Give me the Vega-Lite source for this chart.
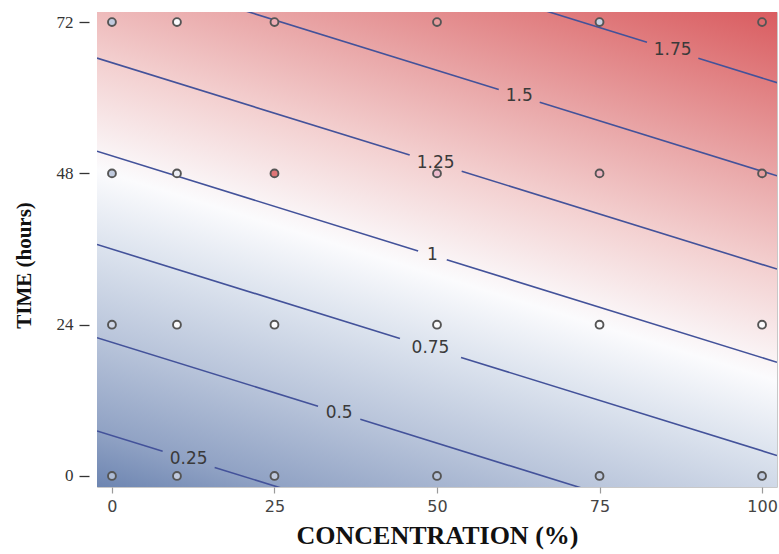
{
  "$schema": "https://vega.github.io/schema/vega-lite/v6.json",
  "width": 680,
  "height": 475,
  "autosize": "none",
  "padding": {"left": 97, "top": 12, "right": 2, "bottom": 67},
  "background": "white",
  "config": {"view": {"stroke": "#c8c8c8", "strokeWidth": 1}},
  "datasets": {
    "bg": [{"x1": -2.3, "x2": 102.3, "y1": -1.75, "y2": 73.6}],
    "contours": [
      {"level": 0.25, "seg": "0.25a", "x": -2.3, "y": 7.15},
      {"level": 0.25, "seg": "0.25a", "x": 7.8, "y": 3.92},
      {"level": 0.25, "seg": "0.25b", "x": 15.8, "y": 1.36},
      {"level": 0.25, "seg": "0.25b", "x": 102.3, "y": -26.32},
      {"level": 0.5, "seg": "0.5a", "x": -2.3, "y": 21.94},
      {"level": 0.5, "seg": "0.5a", "x": 31.7, "y": 11.06},
      {"level": 0.5, "seg": "0.5b", "x": 38.2, "y": 8.98},
      {"level": 0.5, "seg": "0.5b", "x": 102.3, "y": -11.53},
      {"level": 0.75, "seg": "0.75a", "x": -2.3, "y": 36.72},
      {"level": 0.75, "seg": "0.75a", "x": 44.3, "y": 21.81},
      {"level": 0.75, "seg": "0.75b", "x": 53.7, "y": 18.8},
      {"level": 0.75, "seg": "0.75b", "x": 102.3, "y": 3.25},
      {"level": 1, "seg": "1a", "x": -2.3, "y": 51.51},
      {"level": 1, "seg": "1a", "x": 47.1, "y": 35.7},
      {"level": 1, "seg": "1b", "x": 51.5, "y": 34.29},
      {"level": 1, "seg": "1b", "x": 102.3, "y": 18.04},
      {"level": 1.25, "seg": "1.25a", "x": -2.3, "y": 66.29},
      {"level": 1.25, "seg": "1.25a", "x": 45.8, "y": 50.9},
      {"level": 1.25, "seg": "1.25b", "x": 53.8, "y": 48.34},
      {"level": 1.25, "seg": "1.25b", "x": 102.3, "y": 32.82},
      {"level": 1.5, "seg": "1.5a", "x": -2.3, "y": 81.08},
      {"level": 1.5, "seg": "1.5a", "x": 59.5, "y": 61.3},
      {"level": 1.5, "seg": "1.5b", "x": 65.8, "y": 59.29},
      {"level": 1.5, "seg": "1.5b", "x": 102.3, "y": 47.61},
      {"level": 1.75, "seg": "1.75a", "x": -2.3, "y": 95.86},
      {"level": 1.75, "seg": "1.75a", "x": 82.3, "y": 68.79},
      {"level": 1.75, "seg": "1.75b", "x": 90.2, "y": 66.26},
      {"level": 1.75, "seg": "1.75b", "x": 102.3, "y": 62.39}
    ],
    "labels": [
      {"label": "0.25", "x": 11.8, "y": 2.64},
      {"label": "0.5", "x": 34.95, "y": 10.02},
      {"label": "0.75", "x": 49.0, "y": 20.31},
      {"label": "1", "x": 49.3, "y": 34.99},
      {"label": "1.25", "x": 49.8, "y": 49.62},
      {"label": "1.5", "x": 62.65, "y": 60.29},
      {"label": "1.75", "x": 86.25, "y": 67.53}
    ],
    "points": [
      {"conc": 0, "time": 72, "resp": 0.55},
      {"conc": 10, "time": 72, "resp": 0.95},
      {"conc": 25, "time": 72, "resp": 1.45},
      {"conc": 50, "time": 72, "resp": 1.55},
      {"conc": 75, "time": 72, "resp": 0.6},
      {"conc": 100, "time": 72, "resp": 1.85},
      {"conc": 0, "time": 48, "resp": 0.55},
      {"conc": 10, "time": 48, "resp": 0.85},
      {"conc": 25, "time": 48, "resp": 1.8},
      {"conc": 50, "time": 48, "resp": 1.35},
      {"conc": 75, "time": 48, "resp": 1.4},
      {"conc": 100, "time": 48, "resp": 1.55},
      {"conc": 0, "time": 24, "resp": 0.65},
      {"conc": 10, "time": 24, "resp": 0.95},
      {"conc": 25, "time": 24, "resp": 0.95},
      {"conc": 50, "time": 24, "resp": 0.95},
      {"conc": 75, "time": 24, "resp": 0.95},
      {"conc": 100, "time": 24, "resp": 0.95},
      {"conc": 0, "time": 0, "resp": 0.45},
      {"conc": 10, "time": 0, "resp": 0.55},
      {"conc": 25, "time": 0, "resp": 0.55},
      {"conc": 50, "time": 0, "resp": 0.5},
      {"conc": 75, "time": 0, "resp": 0.55},
      {"conc": 100, "time": 0, "resp": 0.55}
    ]
  },
  "layer": [
    {
      "data": {"name": "bg"},
      "mark": {
        "type": "rect",
        "stroke": null,
        "fill": {
          "gradient": "linear",
          "x1": 0, "y1": 1, "x2": 0.5356, "y2": -0.2062,
          "stops": [
            {"offset": 0, "color": "#6d85b1"},
            {"offset": 0.0818, "color": "#90a2c4"},
            {"offset": 0.2177, "color": "#b8c4da"},
            {"offset": 0.3535, "color": "#dce3ee"},
            {"offset": 0.4622, "color": "#fbfbfd"},
            {"offset": 0.6253, "color": "#f3cfcf"},
            {"offset": 0.7611, "color": "#e9a6a7"},
            {"offset": 0.897, "color": "#e07c7e"},
            {"offset": 1, "color": "#d95c60"}
          ]
        }
      },
      "encoding": {
        "x": {
          "field": "x1", "type": "quantitative",
          "scale": {"domain": [-2.3, 102.3], "nice": false, "zero": false},
          "axis": {
            "values": [0, 25, 50, 75, 100],
            "title": "CONCENTRATION (%)",
            "grid": false, "domain": false,
            "tickSize": 6, "tickColor": "#9a9a9a", "tickWidth": 1.2,
            "labelFont": "DejaVu Sans", "labelFontSize": 16, "labelColor": "#444",
            "labelPadding": 5,
            "titleFont": "Liberation Serif", "titleFontSize": 26, "titleFontWeight": "bold",
            "titleColor": "#111", "titlePadding": 8
          }
        },
        "x2": {"field": "x2"},
        "y": {
          "field": "y1", "type": "quantitative",
          "scale": {"domain": [-1.75, 73.6], "nice": false, "zero": false},
          "axis": {
            "values": [0, 24, 48, 72],
            "title": "TIME (hours)",
            "grid": false, "domain": false,
            "offset": 8,
            "tickSize": 10, "tickColor": "#333", "tickWidth": 1.3,
            "labelFont": "Liberation Serif", "labelFontSize": 17, "labelColor": "#333",
            "labelPadding": 6,
            "titleFont": "Liberation Serif", "titleFontSize": 21, "titleFontWeight": "bold",
            "titleColor": "#111", "titlePadding": 22, "titleY": 253
          }
        },
        "y2": {"field": "y2"}
      }
    },
    {
      "data": {"name": "contours"},
      "mark": {"type": "line", "color": "#43529a", "strokeWidth": 1.6, "clip": true},
      "encoding": {
        "x": {"field": "x", "type": "quantitative"},
        "y": {"field": "y", "type": "quantitative"},
        "detail": {"field": "seg", "type": "nominal"}
      }
    },
    {
      "data": {"name": "labels"},
      "mark": {"type": "text", "font": "DejaVu Sans", "fontSize": 17, "color": "#3a3a3a", "align": "center", "baseline": "middle"},
      "encoding": {
        "x": {"field": "x", "type": "quantitative"},
        "y": {"field": "y", "type": "quantitative"},
        "text": {"field": "label", "type": "nominal"}
      }
    },
    {
      "data": {"name": "points"},
      "mark": {"type": "point", "shape": "circle", "filled": true, "size": 62, "opacity": 1, "stroke": "#555", "strokeWidth": 1.9},
      "encoding": {
        "x": {"field": "conc", "type": "quantitative"},
        "y": {"field": "time", "type": "quantitative"},
        "fill": {
          "field": "resp", "type": "quantitative",
          "scale": {"domain": [0.1, 0.5, 0.95, 1.5, 1.94], "range": ["#6d85b1", "#b8c4da", "#fbfbfd", "#e9a6a7", "#d95c60"]},
          "legend": null
        }
      }
    }
  ]
}
